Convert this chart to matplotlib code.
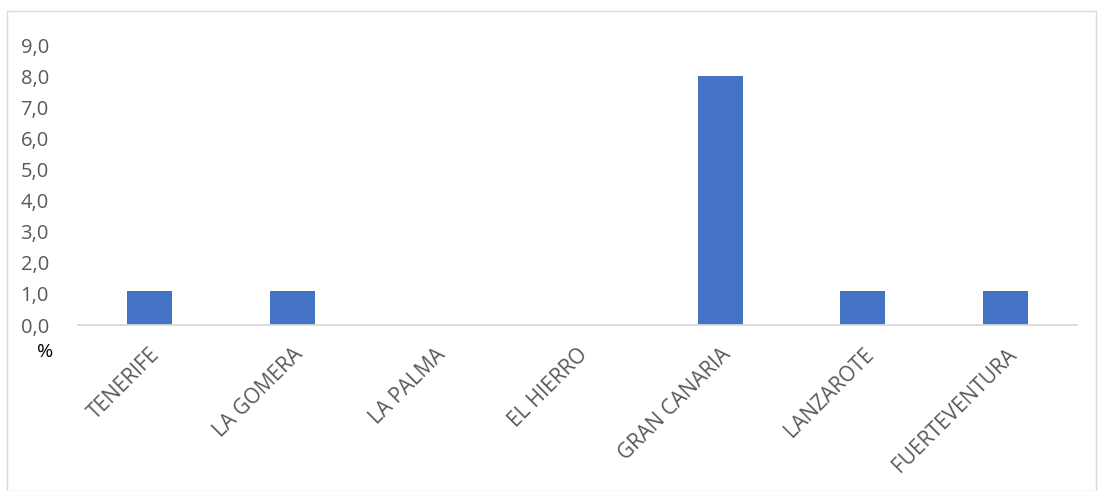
import matplotlib
matplotlib.use("Agg")
import matplotlib.pyplot as plt
from matplotlib.patches import Rectangle
from matplotlib.transforms import ScaledTranslation

categories = ["TENERIFE", "LA GOMERA", "LA PALMA", "EL HIERRO", "GRAN CANARIA", "LANZAROTE", "FUERTEVENTURA"]
values = [1.1, 1.1, 0.0, 0.0, 8.0, 1.1, 1.1]
yticks = [0, 1, 2, 3, 4, 5, 6, 7, 8, 9]

W, H = 1098, 491
fig = plt.figure(figsize=(W / 100, H / 100), dpi=100)
plt.rcParams['font.family'] = ['Open Sans', 'DejaVu Sans']

# outer border
fig.patches.append(Rectangle((7 / W, 0), (W - 9) / W, (H - 11) / H, transform=fig.transFigure,
                             fill=False, edgecolor="#d9d9d9", linewidth=1))

ax = fig.add_axes([78 / W, 1 - 325 / H, (1077 - 78) / W, (325 - 45) / H])
x = list(range(len(categories)))
ax.bar(x, values, width=0.315, color="#4472c4")
ax.set_xlim(-0.5, len(categories) - 0.5)
ax.set_ylim(0, 9)
ax.set_yticks(yticks)
ax.set_yticklabels([f"{v:.1f}".replace(".", ",") for v in yticks], fontsize=14.5, color="#595959")
ax.set_xticks(x)
ax.set_xticklabels(categories, rotation=45, ha="right", va="top", rotation_mode="anchor",
                   fontsize=15, color="#595959")
shift = ScaledTranslation(-5 / 100, 0, fig.dpi_scale_trans)
for lbl in ax.get_xticklabels():
    lbl.set_transform(lbl.get_transform() + shift)
ax.tick_params(axis="both", length=0)
ax.tick_params(axis="x", pad=14)
ax.tick_params(axis="y", pad=21)
for s in ["top", "right", "left"]:
    ax.spines[s].set_visible(False)
ax.spines["bottom"].set_color("#d9d9d9")
ax.spines["bottom"].set_linewidth(1.3)

fig.text(45 / W, 1 - 352 / H, "%", fontsize=14, color="black", ha="center", va="center")

fig.savefig("out.png", dpi=100)
